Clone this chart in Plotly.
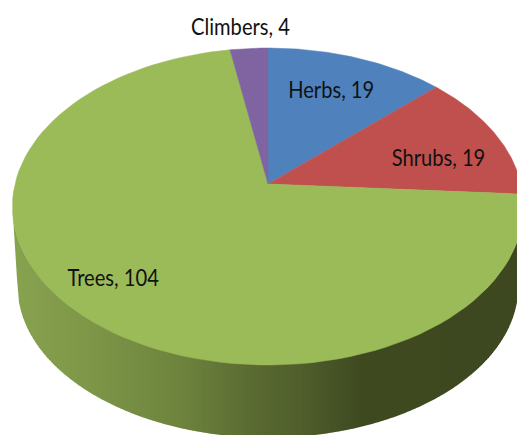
import numpy as np
import plotly.graph_objects as go

categories = ["Herbs", "Shrubs", "Trees", "Climbers"]
values = [19, 19, 104, 4]
colors = ["#4f81bd", "#c0504d", "#9bbb59", "#8064a2"]
label_x = [331, 438, 113, 240]
label_y = [89, 157, 277, 26]

# perspective of the disc, in page pixels
K = 0.142
TOP = dict(cx=268, cy=184, b=253, a=155.3)
BOTTOM = dict(cx=268, cy=264, b=248, a=149)
wall_stops_x = [12, 87, 180, 260, 300, 360, 517]
wall_stops_rgb = [(136, 163, 80), (126, 151, 72), (110, 132, 62), (88, 104, 48),
                  (80, 95, 45), (63, 74, 33), (62, 72, 32)]


def rim(theta, p):
    X, Y = np.sin(theta), np.cos(theta)
    d = 1 + K * Y
    return p["cx"] + p["b"] * X / d, p["cy"] - p["a"] * Y / d


def front_arc(p):
    """Front half of a rim, from its leftmost to its rightmost point, by rising x."""
    tt = np.radians(np.linspace(0, 360, 1441))[:-1]
    x, y = rim(tt, p)
    il, ir = int(np.argmin(x)), int(np.argmax(x))
    span = tt[ir:il + 1][::-1]
    return rim(span, p)


fig = go.Figure()

# side wall: vertical strips between the two front arcs, on whole pixels
xt, yt = front_arc(TOP)
xb, yb = front_arc(BOTTOM)
xb = np.concatenate([[xt[0]], xb, [xt[-1]]])
yb = np.concatenate([[yt[0]], yb, [yt[-1]]])
grid = np.arange(np.ceil(xt[0]), 518, 2.0)
for x0, x1 in zip(grid[:-1], grid[1:]):
    xx = np.array([x0, x1])
    up = np.interp(xx, xt, yt)
    lo = np.interp(xx, xb, yb)
    rgb = [np.interp((x0 + x1) / 2, wall_stops_x, [c[i] for c in wall_stops_rgb]) for i in range(3)]
    col = "rgb(%d,%d,%d)" % tuple(rgb)
    fig.add_trace(go.Scatter(
        x=[x0, x1, x1, x0, x0], y=[up[0] - 1, up[1] - 1, lo[1], lo[0], up[0] - 1],
        mode="lines", fill="toself", fillcolor=col, line=dict(width=0),
        hoverinfo="skip", showlegend=False))

# top face
fractions = np.cumsum([0] + values) / sum(values)
for i, name in enumerate(categories):
    t = np.linspace(fractions[i], fractions[i + 1], 100) * 2 * np.pi
    x, y = rim(t, TOP)
    fig.add_trace(go.Scatter(
        x=[TOP["cx"]] + list(x) + [TOP["cx"]], y=[TOP["cy"]] + list(y) + [TOP["cy"]],
        mode="lines", fill="toself", fillcolor=colors[i], line=dict(color=colors[i], width=0.5),
        name=name, hoverinfo="name", showlegend=False))

for name, v, lx, ly in zip(categories, values, label_x, label_y):
    fig.add_annotation(x=lx, y=ly, text=f"{name}, {v}", showarrow=False,
                       font=dict(family="Lato", size=23, color="#111111"))

fig.update_layout(
    width=517, height=435, margin=dict(l=0, r=0, t=0, b=0),
    paper_bgcolor="white", plot_bgcolor="white", showlegend=False,
    xaxis=dict(range=[0, 517], visible=False, fixedrange=True),
    yaxis=dict(range=[435, 0], visible=False, fixedrange=True),
)
post = """
document.body.style.margin='0';document.body.style.overflow='hidden';
document.querySelectorAll('.annotation-text').forEach(function(t){
  t.setAttribute('textLength', t.getComputedTextLength()*0.875);
  t.setAttribute('lengthAdjust','spacingAndGlyphs');
});
"""
fig.write_html("out.html", config=dict(displayModeBar=False), post_script=post)
